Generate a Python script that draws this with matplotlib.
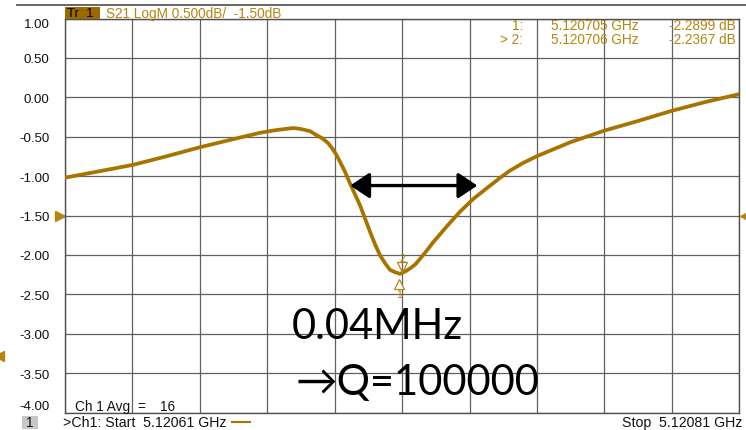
import matplotlib
matplotlib.use("Agg")
import matplotlib.pyplot as plt
from matplotlib.lines import Line2D
from matplotlib.patches import Rectangle
from matplotlib.transforms import ScaledTranslation

# ---- sweep settings (GHz, kHz offsets from the start frequency) ----
start_ghz = 5.120606
span_khz = 200.0
start_label = "5.12061 GHz"
stop_label = "5.12081 GHz"

# ---- S21 LogM trace: frequency offset (kHz) and magnitude (dB) ----
trace_khz = [0.0, 10.0, 20.2, 30.0, 40.1, 50.0, 57.9, 62.0, 63.8, 67.7,
             69.7, 72.7, 74.2, 76.3, 78.0, 79.2, 80.5, 81.6, 83.1, 84.6, 86.1, 87.5,
             89.0, 90.5, 92.0, 93.5, 95.0, 96.4, 97.9, 99.4, 100.9, 102.4,
             103.9, 105.3, 107.4, 109.2, 113.4, 117.2, 121.1, 125.2, 129.1,
             132.0, 136.0, 140.1, 149.9, 160.2, 170.0, 180.1, 189.9, 200.0]
trace_db = [-1.02, -0.94, -0.857, -0.75, -0.633, -0.53, -0.45, -0.42, -0.41, -0.39,
            -0.40, -0.43, -0.47, -0.52, -0.58, -0.645, -0.73, -0.82, -0.95, -1.10, -1.24, -1.37,
            -1.54, -1.71, -1.87, -2.01, -2.11, -2.19, -2.22, -2.24, -2.21, -2.17,
            -2.12, -2.05, -1.94, -1.84, -1.63, -1.45, -1.29, -1.15, -1.02,
            -0.93, -0.83, -0.745, -0.57, -0.42, -0.30, -0.17, -0.06, 0.04]

# ---- markers ----
marker_ids = ["1", "2"]
marker_ghz = [5.120705, 5.120706]
marker_db = [-2.2899, -2.2367]
marker_rows = ["1:", "> 2:"]
marker_freq_text = ["5.120705 GHz", "5.120706 GHz"]
marker_val_text = ["-2.2899 dB", "-2.2367 dB"]

# ---- scale ----
ref_level = -1.50
y_ticks = [1.00, 0.50, 0.00, -0.50, -1.00, -1.50, -2.00, -2.50, -3.00, -3.50, -4.00]
y_tick_labels = ["1.00", "0.50", "0.00", "-0.50", "-1.00", "-1.50", "-2.00",
                 "-2.50", "-3.00", "-3.50", "-4.00"]

# ---- linewidth bracket ----
bracket_khz = [84.6, 122.3]
bracket_db = -1.12
note_lines = ["0.04MHz", "\u2192Q=100000"]

TRACE = "#a87400"
GOLD = "#b5860e"
GRID = "#606060"
W, H = 746, 431

plt.rcParams["font.family"] = ["Liberation Sans", "DejaVu Sans"]

fig = plt.figure(figsize=(W / 100, H / 100), dpi=100)
fig.patch.set_facecolor("white")

def fx(px):
    return px / W

def fy(py):
    return 1 - py / H

ax = fig.add_axes([fx(65), fy(413.5), fx(674.3), 394 / H])
ax.set_xlim(0, span_khz)
ax.set_ylim(-4.0, 1.0)

ax.set_xticks([i * span_khz / 10 for i in range(11)])
ax.set_xticklabels([])
ax.set_yticks(y_ticks)
ax.set_yticklabels(y_tick_labels)
ax.tick_params(axis="both", length=0)
ax.tick_params(axis="y", pad=11, labelsize=9.5, labelcolor="#111111")
labels = ax.get_yticklabels()
labels[0].set_va("top")
labels[-1].set_va("bottom")
ax.grid(True, color=GRID, lw=0.9)
ax.set_axisbelow(True)
for s in ax.spines.values():
    s.set_color("#505050")
    s.set_linewidth(1.0)

# trace
ax.plot(trace_khz, trace_db, color=TRACE, lw=2.7, solid_joinstyle="round",
        solid_capstyle="round", zorder=3)

# markers: 1 sits below the trace (pointing up), 2 above (pointing down)
mk_khz = [(f - start_ghz) * 1e6 for f in marker_ghz]
down = ScaledTranslation(0, -4.5 / 72, fig.dpi_scale_trans)
up = ScaledTranslation(0, 4.5 / 72, fig.dpi_scale_trans)
ax.plot([mk_khz[0]], [marker_db[0]], marker="^", ms=7, mfc="white", mec=GOLD,
        mew=0.9, transform=ax.transData + down, zorder=4)
ax.plot([mk_khz[1]], [marker_db[1]], marker="v", ms=7, mfc="none", mec=GOLD,
        mew=0.9, transform=ax.transData + up, zorder=4)
ax.text(mk_khz[0], marker_db[0], marker_ids[0], color=GOLD, fontsize=7.5,
        ha="center", va="center",
        transform=ax.transData + ScaledTranslation(0, -12 / 72, fig.dpi_scale_trans))
ax.text(mk_khz[1], marker_db[1], marker_ids[1], color=GOLD, fontsize=7.5,
        ha="center", va="center",
        transform=ax.transData + ScaledTranslation(0, 11 / 72, fig.dpi_scale_trans))

# reference level arrows on both edges
yax = ax.get_yaxis_transform()
ax.plot([0], [ref_level], marker=">", ms=7, color=GOLD, clip_on=False,
        transform=yax + ScaledTranslation(-3.5 / 72, 0, fig.dpi_scale_trans))
ax.plot([1], [ref_level], marker="<", ms=7, color=GOLD, clip_on=False,
        transform=yax + ScaledTranslation(3.8 / 72, 0, fig.dpi_scale_trans))
ax.plot([0], [-3.28], marker="<", ms=7, color=GOLD, clip_on=False,
        transform=yax + ScaledTranslation(-66 / 100, 0, fig.dpi_scale_trans))

# linewidth bracket
ax.annotate("", xy=(bracket_khz[0], bracket_db), xytext=(bracket_khz[1], bracket_db),
            arrowprops=dict(arrowstyle="<|-|>,head_length=0.45,head_width=0.3",
                            color="black", lw=2.4,
                            mutation_scale=26, shrinkA=0, shrinkB=0), zorder=5)

# header bar
fig.add_artist(Line2D([fx(17), 1], [fy(5.5), fy(5.5)], color="#5a5a5a", lw=1.3))
fig.add_artist(Rectangle((fx(65), fy(19.5)), fx(34.5), 11.5 / H,
                         facecolor="#9c6800", edgecolor="none"))
fig.text(fx(67), fy(13.7), "Tr  1", color="black", fontsize=9.5, va="center")
fig.text(fx(106), fy(13.7), "S21 LogM 0.500dB/  -1.50dB", color=GOLD,
         fontsize=9.8, va="center")

# marker readout
for i, yy in enumerate([25.5, 39.5]):
    fig.text(fx(523), fy(yy), marker_rows[i], color=GOLD, fontsize=9.8,
             ha="right", va="center")
    fig.text(fx(551), fy(yy), marker_freq_text[i], color=GOLD, fontsize=9.8,
             ha="left", va="center")
    fig.text(fx(736), fy(yy), marker_val_text[i], color=GOLD, fontsize=9.8,
             ha="right", va="center")

# averaging note
fig.text(fx(75), fy(407), "Ch 1 Avg", color="#111111", fontsize=9.8, va="center")
fig.text(fx(137), fy(407), "=", color="#111111", fontsize=9.8, va="center")
fig.text(fx(160), fy(407), "16", color="#111111", fontsize=9.8, va="center")

# status line
fig.add_artist(Rectangle((fx(22), fy(430)), fx(16), 13 / H,
                         facecolor="#c8c8c8", edgecolor="none"))
fig.text(fx(30), fy(423.5), "1", color="#111111", fontsize=9.8,
         ha="center", va="center")
fig.text(fx(63), fy(423.5), ">Ch1: Start  " + start_label, color="#111111",
         fontsize=10.2, va="center")
fig.add_artist(Line2D([fx(232), fx(250)], [fy(423), fy(423)], color=TRACE, lw=1.5))
fig.text(fx(742), fy(423.5), "Stop  " + stop_label, color="#111111",
         fontsize=10.2, ha="right", va="center")

# linewidth / Q note
note_font = ["Lato", "Noto Sans", "DejaVu Sans"]
fig.text(fx(292), fy(327), note_lines[0], color="black", fontsize=30,
         family=note_font, va="center")
fig.text(fx(296), fy(383), note_lines[1], color="black", fontsize=30,
         family=note_font, va="center")

fig.savefig("out.png", dpi=100, facecolor="white")
